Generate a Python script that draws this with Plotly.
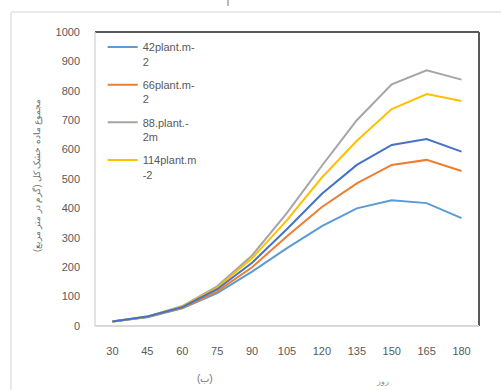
import plotly.graph_objects as go

days = ["30", "45", "60", "75", "90", "105", "120", "135", "150", "165", "180"]

d42 = [15, 30, 60, 112, 185, 265, 340, 400, 428, 418, 367]
d66 = [15, 31, 62, 118, 200, 305, 405, 485, 548, 565, 527]
d88 = [15, 32, 68, 135, 240, 385, 545, 700, 822, 870, 838]
d114 = [15, 32, 66, 130, 230, 360, 505, 630, 738, 789, 765]
d136 = [15, 32, 64, 125, 215, 330, 450, 548, 616, 636, 593]

series = [
    ("42plant.m-<br>2", d42, "#5B9BD5", True),
    ("66plant.m-<br>2", d66, "#ED7D31", True),
    ("88.plant.-<br>2m", d88, "#A5A5A5", True),
    ("114plant.m<br>-2", d114, "#FFC000", True),
    ("136plant.m-<br>2", d136, "#4472C4", False),
]

y_ticks = [0, 100, 200, 300, 400, 500, 600, 700, 800, 900, 1000]

fig = go.Figure()
for i, (name, vals, color, show) in enumerate(series):
    fig.add_trace(go.Scatter(
        x=days, y=vals, name=name, mode="lines",
        line=dict(color=color, width=2),
        showlegend=show, legendgroup=f"g{i}",
    ))

# plot area in pixels: x 95..479, y 32..326
L, R, T, B = 95, 479, 32, 326
W, H = 501, 390


def px(p):
    return (p - L) / (R - L)


def py(q):
    return (B - q) / (B - T)


fig.update_layout(
    width=W, height=H,
    margin=dict(l=L, r=W - R, t=T, b=H - B, pad=0),
    paper_bgcolor="white", plot_bgcolor="white",
    font=dict(family="Liberation Sans, Arial, sans-serif", size=11, color="#595959"),
    legend=dict(
        x=0.02, y=0.995, xanchor="left", yanchor="top",
        bgcolor="rgba(255,255,255,0)", itemwidth=30, valign="top",
        font=dict(size=11, color="#595959"),
        tracegroupgap=6,
    ),
    xaxis=dict(
        type="category", range=[-0.5, 10.5], showgrid=False, zeroline=False,
        showline=False, ticks="", tickfont=dict(size=11, color="#595959"),
        ticklabelstandoff=17,
    ),
    yaxis=dict(
        range=[0, 1000], tickvals=y_ticks, showgrid=False, zeroline=False,
        showline=False, ticks="", tickfont=dict(size=11, color="#595959"),
        ticklabelstandoff=14,
    ),
    shapes=[
        # frame around the plot area
        dict(type="line", xref="paper", yref="paper", x0=0, x1=1, y0=1, y1=1,
             line=dict(color="#595959", width=2)),
        dict(type="line", xref="paper", yref="paper", x0=1, x1=1, y0=0, y1=1,
             line=dict(color="#595959", width=2)),
        dict(type="line", xref="paper", yref="paper", x0=0, x1=1, y0=0, y1=0,
             line=dict(color="#D9D9D9", width=2)),
        dict(type="line", xref="paper", yref="paper", x0=0, x1=0, y0=0, y1=1,
             line=dict(color="#D9D9D9", width=1.5)),
        # outer chart border
        dict(type="line", xref="paper", yref="paper", x0=px(11), x1=px(501),
             y0=py(12), y1=py(12), line=dict(color="#E3E3E3", width=1.5)),
        dict(type="line", xref="paper", yref="paper", x0=px(11), x1=px(11),
             y0=py(12), y1=py(390), line=dict(color="#E3E3E3", width=1.5)),
        dict(type="line", xref="paper", yref="paper", x0=px(228), x1=px(228),
             y0=py(0), y1=py(6), line=dict(color="#777777", width=1)),
    ],
    annotations=[
        dict(text="مجموع ماده خشک کل (گرم در متر مربع)", xref="paper", yref="paper",
             x=px(37), y=py(175), textangle=-90, showarrow=False,
             font=dict(size=9, color="#707070"), xanchor="center", yanchor="middle"),
        dict(text="(ب)", xref="paper", yref="paper", x=px(205), y=py(378),
             showarrow=False, font=dict(size=10, color="#707070"),
             xanchor="center", yanchor="middle"),
        dict(text="روز", xref="paper", yref="paper", x=px(382), y=py(381),
             showarrow=False, font=dict(size=8, color="#8a8a8a"),
             xanchor="center", yanchor="middle"),
    ],
)

fig.write_html("out.html")
